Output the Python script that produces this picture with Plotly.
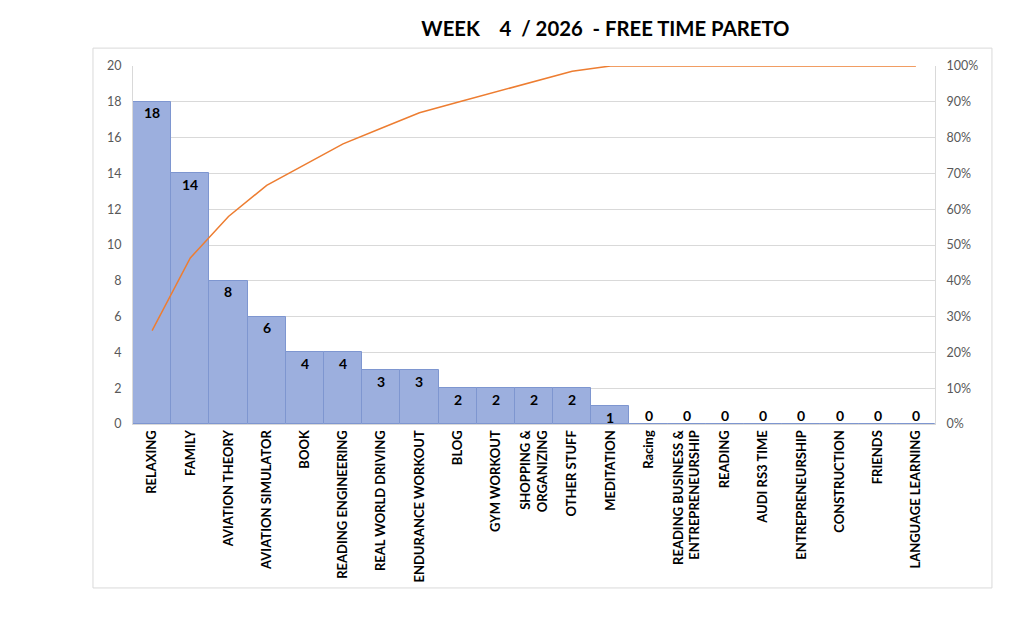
import plotly.graph_objects as go

categories = ["RELAXING", "FAMILY", "AVIATION THEORY", "AVIATION SIMULATOR", "BOOK",
              "READING ENGINEERING", "REAL WORLD DRIVING", "ENDURANCE WORKOUT", "BLOG",
              "GYM WORKOUT", "SHOPPING &<br>ORGANIZING", "OTHER STUFF", "MEDITATION",
              "Racing", "READING BUSINESS &<br>ENTREPRENEURSHIP", "READING", "AUDI RS3 TIME",
              "ENTREPRENEURSHIP", "CONSTRUCTION", "FRIENDS", "LANGUAGE LEARNING"]
hours = [18, 14, 8, 6, 4, 4, 3, 3, 2, 2, 2, 2, 1, 0, 0, 0, 0, 0, 0, 0, 0]
left_ticks = [0, 2, 4, 6, 8, 10, 12, 14, 16, 18, 20]
right_ticks = [0, 10, 20, 30, 40, 50, 60, 70, 80, 90, 100]

total = sum(hours)
cum = []
s = 0
for h in hours:
    s += h
    cum.append(s / total * 100)

FONT = "Lato"
fig = go.Figure()
fig.add_trace(go.Bar(
    x=list(range(len(categories))), y=hours,
    marker=dict(color="#9CAFDE", line=dict(color="#7E96D0", width=1)),
    width=1.0, showlegend=False, hoverinfo="y"))
fig.add_trace(go.Scatter(
    x=list(range(len(categories))), y=cum, yaxis="y2", mode="lines",
    line=dict(color="#ED7D31", width=1.5), showlegend=False))

annotations = []
for i, h in enumerate(hours):
    annotations.append(dict(x=i, y=h, xref="x", yref="y", text=f"<b>{h}</b>",
                            showarrow=False, yshift=(-11 if h > 0 else 9),
                            font=dict(family=FONT, size=14, color="#000000")))

fig.update_layout(
    width=1023, height=625,
    margin=dict(l=125, r=96, t=58, b=209),
    paper_bgcolor="white", plot_bgcolor="white",
    title=dict(text="<b>WEEK\u00a0\u00a0\u00a0 4 \u00a0/ 2026 \u00a0- FREE TIME PARETO</b>",
               x=0.584, xanchor="center", y=0.967, yanchor="middle",
               font=dict(family=FONT, size=20.3, color="#000000")),
    bargap=0,
    xaxis=dict(tickmode="array", tickvals=list(range(len(categories))), ticktext=categories,
               tickangle=-90, range=[-0.5, len(categories) - 0.5],
               tickfont=dict(family=FONT, size=13, color="#000000", weight="bold"),
               showline=True, linecolor="#D9D9D9", linewidth=1, ticks="", showgrid=False),
    yaxis=dict(range=[0, 20], tickvals=left_ticks, showgrid=True, gridcolor="#D9D9D9",
               showline=True, linecolor="#D9D9D9", zeroline=False,
               tickfont=dict(family=FONT, size=12.5, color="#595959"), ticks="",
               ticklabelstandoff=8),
    yaxis2=dict(range=[0, 100], tickvals=right_ticks,
                ticktext=[f"{v}%" for v in right_ticks], overlaying="y", side="right",
                showgrid=False, showline=True, linecolor="#D9D9D9", zeroline=False,
                tickfont=dict(family=FONT, size=12.5, color="#595959"), ticks="",
                ticklabelstandoff=8),
    annotations=annotations,
    shapes=[dict(type="rect", xref="paper", yref="paper", x0=-0.0499, x1=1.071,
                 y0=-0.458, y1=1.050, line=dict(color="#D9D9D9", width=1),
                 fillcolor="rgba(0,0,0,0)", layer="below")],
)
fig.write_html("out.html")
